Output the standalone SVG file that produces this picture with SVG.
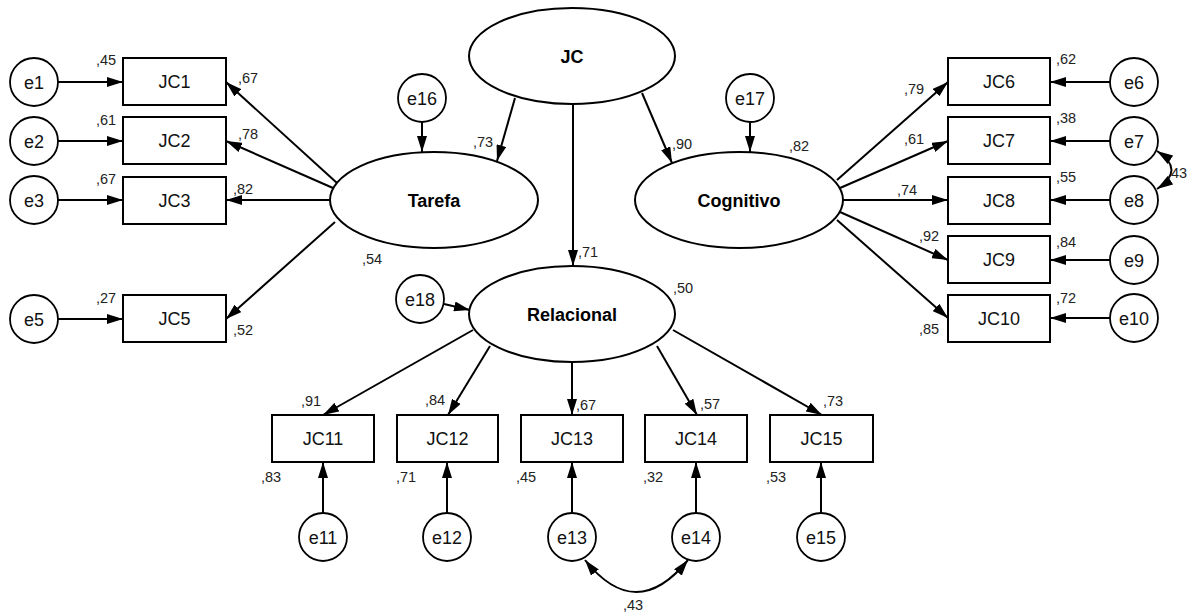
<svg xmlns="http://www.w3.org/2000/svg" width="1194" height="614" viewBox="0 0 1194 614">
<defs>
<marker id="ah" viewBox="0 0 16 10" refX="16" refY="5" markerWidth="16" markerHeight="10" markerUnits="userSpaceOnUse" orient="auto-start-reverse"><path d="M0,0 L16,5 L0,10 z" fill="#000"/></marker>
</defs>
<style>
.bx{fill:#fff;stroke:#000;stroke-width:2}
.el{fill:#fff;stroke:#000;stroke-width:2}
.ci{fill:#fff;stroke:#000;stroke-width:1.8}
.t{font-family:"Liberation Sans",Arial,sans-serif;font-size:18px;fill:#111;text-anchor:middle}
.tb{font-family:"Liberation Sans",Arial,sans-serif;font-size:18px;font-weight:bold;fill:#000;text-anchor:middle}
.l{font-family:"Liberation Sans",Arial,sans-serif;font-size:14.5px;fill:#222}
.c line,.c path{stroke:#000;stroke-width:2;fill:none;marker-end:url(#ah)}
.c path.cov{marker-start:url(#ah)}
</style>
<rect width="1194" height="614" fill="#fff"/>
<g class="c" id="connectors">
<line x1="58" y1="82" x2="123" y2="82"/>
<line x1="58" y1="141" x2="123" y2="141"/>
<line x1="58" y1="200" x2="123" y2="200"/>
<line x1="58" y1="319" x2="123" y2="319"/>
<line x1="337" y1="183" x2="226" y2="82"/>
<line x1="333" y1="188" x2="226" y2="141"/>
<line x1="330" y1="200" x2="226" y2="200"/>
<line x1="335" y1="222" x2="226" y2="319"/>
<line x1="422" y1="122" x2="422" y2="152"/>
<line x1="750" y1="122" x2="750" y2="152"/>
<line x1="515" y1="98" x2="497" y2="161"/>
<line x1="642" y1="93" x2="672" y2="163"/>
<line x1="573" y1="104" x2="573" y2="266"/>
<line x1="837" y1="180" x2="948" y2="82"/>
<line x1="840" y1="188" x2="948" y2="141"/>
<line x1="842" y1="200" x2="948" y2="200"/>
<line x1="840" y1="212" x2="948" y2="260"/>
<line x1="837" y1="220" x2="948" y2="318"/>
<line x1="1110" y1="82" x2="1050" y2="82"/>
<line x1="1110" y1="141" x2="1050" y2="141"/>
<line x1="1110" y1="200" x2="1050" y2="200"/>
<line x1="1110" y1="260" x2="1050" y2="260"/>
<line x1="1110" y1="318" x2="1050" y2="318"/>
<line x1="444" y1="304" x2="470" y2="310"/>
<line x1="473" y1="330" x2="323" y2="415"/>
<line x1="490" y1="346" x2="448" y2="415"/>
<line x1="572" y1="362" x2="572" y2="415"/>
<line x1="657" y1="346" x2="697" y2="415"/>
<line x1="673" y1="330" x2="822" y2="415"/>
<line x1="323" y1="513" x2="323" y2="462"/>
<line x1="447" y1="513" x2="447" y2="462"/>
<line x1="572" y1="513" x2="572" y2="462"/>
<line x1="696" y1="513" x2="696" y2="462"/>
<line x1="821" y1="513" x2="821" y2="462"/>
<path class="cov" d="M585,560 Q636,624 688,560"/>
<path class="cov" d="M1157,151 Q1186,170 1157,189"/>
</g>
<g id="JC"><ellipse class="el" cx="572" cy="56" rx="103" ry="48"/><text class="tb" x="572" y="62.5">JC</text></g>
<g id="Tarefa"><ellipse class="el" cx="434" cy="200" rx="104" ry="48"/><text class="tb" x="434" y="206.5">Tarefa</text></g>
<g id="Cognitivo"><ellipse class="el" cx="739" cy="200" rx="104" ry="48"/><text class="tb" x="739" y="206.5">Cognitivo</text></g>
<g id="Relacional"><ellipse class="el" cx="572" cy="314" rx="103" ry="48"/><text class="tb" x="572" y="320.5">Relacional</text></g>
<g id="JC1"><rect class="bx" x="123" y="58" width="103" height="47"/><text class="t" x="174.5" y="88">JC1</text></g>
<g id="JC2"><rect class="bx" x="123" y="117" width="103" height="47"/><text class="t" x="174.5" y="147">JC2</text></g>
<g id="JC3"><rect class="bx" x="123" y="177" width="103" height="47"/><text class="t" x="174.5" y="207">JC3</text></g>
<g id="JC5"><rect class="bx" x="123" y="295" width="103" height="47"/><text class="t" x="174.5" y="325">JC5</text></g>
<g id="JC6"><rect class="bx" x="948" y="58" width="102" height="47"/><text class="t" x="999" y="88">JC6</text></g>
<g id="JC7"><rect class="bx" x="948" y="117" width="102" height="47"/><text class="t" x="999" y="147">JC7</text></g>
<g id="JC8"><rect class="bx" x="948" y="177" width="102" height="47"/><text class="t" x="999" y="207">JC8</text></g>
<g id="JC9"><rect class="bx" x="948" y="236" width="102" height="47"/><text class="t" x="999" y="266">JC9</text></g>
<g id="JC10"><rect class="bx" x="948" y="295" width="102" height="47"/><text class="t" x="999" y="325">JC10</text></g>
<g id="JC11"><rect class="bx" x="272" y="415" width="102" height="47"/><text class="t" x="323" y="445">JC11</text></g>
<g id="JC12"><rect class="bx" x="397" y="415" width="101" height="47"/><text class="t" x="447.5" y="445">JC12</text></g>
<g id="JC13"><rect class="bx" x="521" y="415" width="102" height="47"/><text class="t" x="572" y="445">JC13</text></g>
<g id="JC14"><rect class="bx" x="645" y="415" width="102" height="47"/><text class="t" x="696" y="445">JC14</text></g>
<g id="JC15"><rect class="bx" x="770" y="415" width="103" height="47"/><text class="t" x="821.5" y="445">JC15</text></g>
<g id="e1"><circle class="ci" cx="34" cy="82" r="24"/><text class="t" x="34" y="88.5">e1</text></g>
<g id="e2"><circle class="ci" cx="34" cy="141" r="24"/><text class="t" x="34" y="147.5">e2</text></g>
<g id="e3"><circle class="ci" cx="34" cy="200" r="24"/><text class="t" x="34" y="206.5">e3</text></g>
<g id="e5"><circle class="ci" cx="34" cy="319" r="24"/><text class="t" x="34" y="325.5">e5</text></g>
<g id="e6"><circle class="ci" cx="1134" cy="82" r="24"/><text class="t" x="1134" y="88.5">e6</text></g>
<g id="e7"><circle class="ci" cx="1134" cy="141" r="24"/><text class="t" x="1134" y="147.5">e7</text></g>
<g id="e8"><circle class="ci" cx="1134" cy="200" r="24"/><text class="t" x="1134" y="206.5">e8</text></g>
<g id="e9"><circle class="ci" cx="1134" cy="260" r="24"/><text class="t" x="1134" y="266.5">e9</text></g>
<g id="e10"><circle class="ci" cx="1134" cy="318" r="24"/><text class="t" x="1134" y="324.5">e10</text></g>
<g id="e11"><circle class="ci" cx="323" cy="537" r="24"/><text class="t" x="323" y="543.5">e11</text></g>
<g id="e12"><circle class="ci" cx="447" cy="537" r="24"/><text class="t" x="447" y="543.5">e12</text></g>
<g id="e13"><circle class="ci" cx="572" cy="537" r="24"/><text class="t" x="572" y="543.5">e13</text></g>
<g id="e14"><circle class="ci" cx="696" cy="537" r="24"/><text class="t" x="696" y="543.5">e14</text></g>
<g id="e15"><circle class="ci" cx="821" cy="537" r="24"/><text class="t" x="821" y="543.5">e15</text></g>
<g id="e16"><circle class="ci" cx="422" cy="98" r="24"/><text class="t" x="422" y="104.5">e16</text></g>
<g id="e17"><circle class="ci" cx="750" cy="98" r="24"/><text class="t" x="750" y="104.5">e17</text></g>
<g id="e18"><circle class="ci" cx="420" cy="299" r="24"/><text class="t" x="420" y="305.5">e18</text></g>
<g id="labels">
<text class="l" x="96" y="65">,45</text>
<text class="l" x="96" y="125">,61</text>
<text class="l" x="96" y="184">,67</text>
<text class="l" x="96" y="303">,27</text>
<text class="l" x="238" y="83">,67</text>
<text class="l" x="238" y="139">,78</text>
<text class="l" x="233" y="194">,82</text>
<text class="l" x="233" y="335">,52</text>
<text class="l" x="473" y="147">,73</text>
<text class="l" x="672" y="149">,90</text>
<text class="l" x="578" y="257">,71</text>
<text class="l" x="362" y="264">,54</text>
<text class="l" x="673" y="293">,50</text>
<text class="l" x="789" y="151">,82</text>
<text class="l" x="1056" y="64">,62</text>
<text class="l" x="1056" y="123">,38</text>
<text class="l" x="1056" y="182">,55</text>
<text class="l" x="1056" y="247">,84</text>
<text class="l" x="1056" y="303">,72</text>
<text class="l" x="904" y="94">,79</text>
<text class="l" x="904" y="144">,61</text>
<text class="l" x="897" y="195">,74</text>
<text class="l" x="919" y="241">,92</text>
<text class="l" x="919" y="334">,85</text>
<text class="l" x="1167" y="178">,43</text>
<text class="l" x="301" y="406">,91</text>
<text class="l" x="425" y="405">,84</text>
<text class="l" x="576" y="410">,67</text>
<text class="l" x="700" y="409">,57</text>
<text class="l" x="823" y="406">,73</text>
<text class="l" x="261" y="482">,83</text>
<text class="l" x="396" y="482">,71</text>
<text class="l" x="516" y="482">,45</text>
<text class="l" x="643" y="482">,32</text>
<text class="l" x="766" y="482">,53</text>
<text class="l" x="623" y="610">,43</text>
</g>
</svg>
